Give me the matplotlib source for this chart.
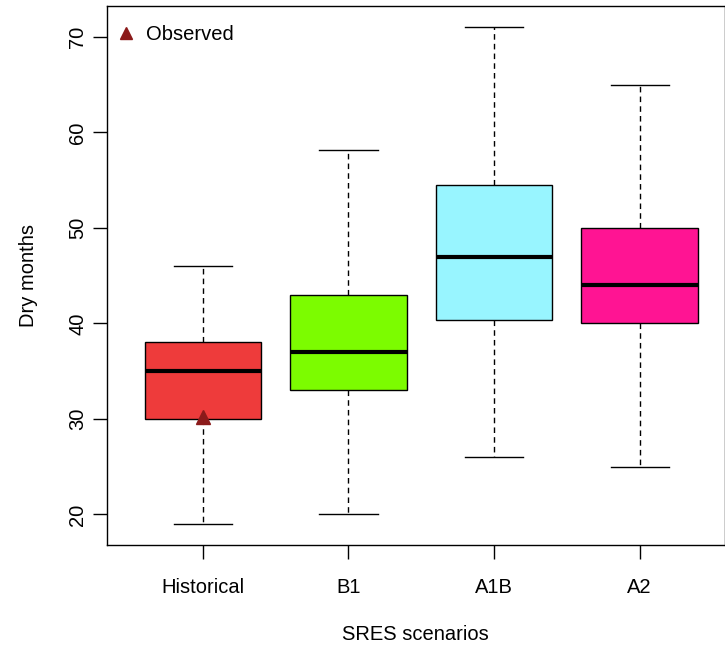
import matplotlib.pyplot as plt
from matplotlib.lines import Line2D

plt.rcParams['font.family'] = ['Liberation Sans', 'DejaVu Sans']

scenarios = ["Historical", "B1", "A1B", "A2"]
whislo = [19, 20, 26, 25]
q1 = [30, 33, 40.4, 40]
med = [35, 37, 47, 44]
q3 = [38, 43, 54.5, 50]
whishi = [46, 58.2, 71, 65]
colors = ["#EE3B3B", "#7CFC00", "#98F5FF", "#FF1493"]
observed = [30.2]

stats = []
for i, name in enumerate(scenarios):
    stats.append({"label": name, "whislo": whislo[i], "q1": q1[i], "med": med[i],
                  "q3": q3[i], "whishi": whishi[i], "fliers": []})

fs = 14.5
fig = plt.figure(figsize=(7.25, 6.48), dpi=100)
ax = fig.add_axes([106.5/725, 1-545/648, 1-106.5/725, (545-5.5)/648])

bp = ax.bxp(stats, positions=[1, 2, 3, 4], widths=0.8, patch_artist=True,
            showfliers=False,
            boxprops=dict(linewidth=1.0, edgecolor="black"),
            medianprops=dict(color="black", linewidth=3.0),
            whiskerprops=dict(color="black", linestyle=(0, (4, 3)), linewidth=1.0),
            capprops=dict(color="black", linewidth=1.0), capwidths=0.4)
for patch, c in zip(bp["boxes"], colors):
    patch.set_facecolor(c)

ax.plot([1], observed, marker="^", color="#8B1A1A", markersize=9.5, linestyle="none", zorder=5)

ax.set_xlim(0.339, 4.586)
ax.set_ylim(16.8, 73.28)
ax.set_yticks([20, 30, 40, 50, 60, 70])
ax.set_xticks([1, 2, 3, 4])
ax.set_xticklabels(scenarios)
ax.tick_params(axis="y", labelrotation=90, length=10, width=1, labelsize=fs, pad=4)
ax.tick_params(axis="x", length=10, width=1, labelsize=fs, pad=14)
for lbl in ax.get_yticklabels():
    lbl.set_va("center")
ax.set_ylabel("Dry months", fontsize=fs, labelpad=22)
ax.set_xlabel("SRES scenarios", fontsize=fs, labelpad=20)
for s in ax.spines.values():
    s.set_linewidth(1.0)

handle = Line2D([], [], marker="^", color="#8B1A1A", linestyle="none", markersize=8)
ax.legend([handle], ["Observed"], loc="upper left", frameon=False, fontsize=fs,
          bbox_to_anchor=(0.0057, 0.979), borderaxespad=0, borderpad=0.4,
          handlelength=0.8, handletextpad=0.6)

fig.savefig("out.png", dpi=100)
